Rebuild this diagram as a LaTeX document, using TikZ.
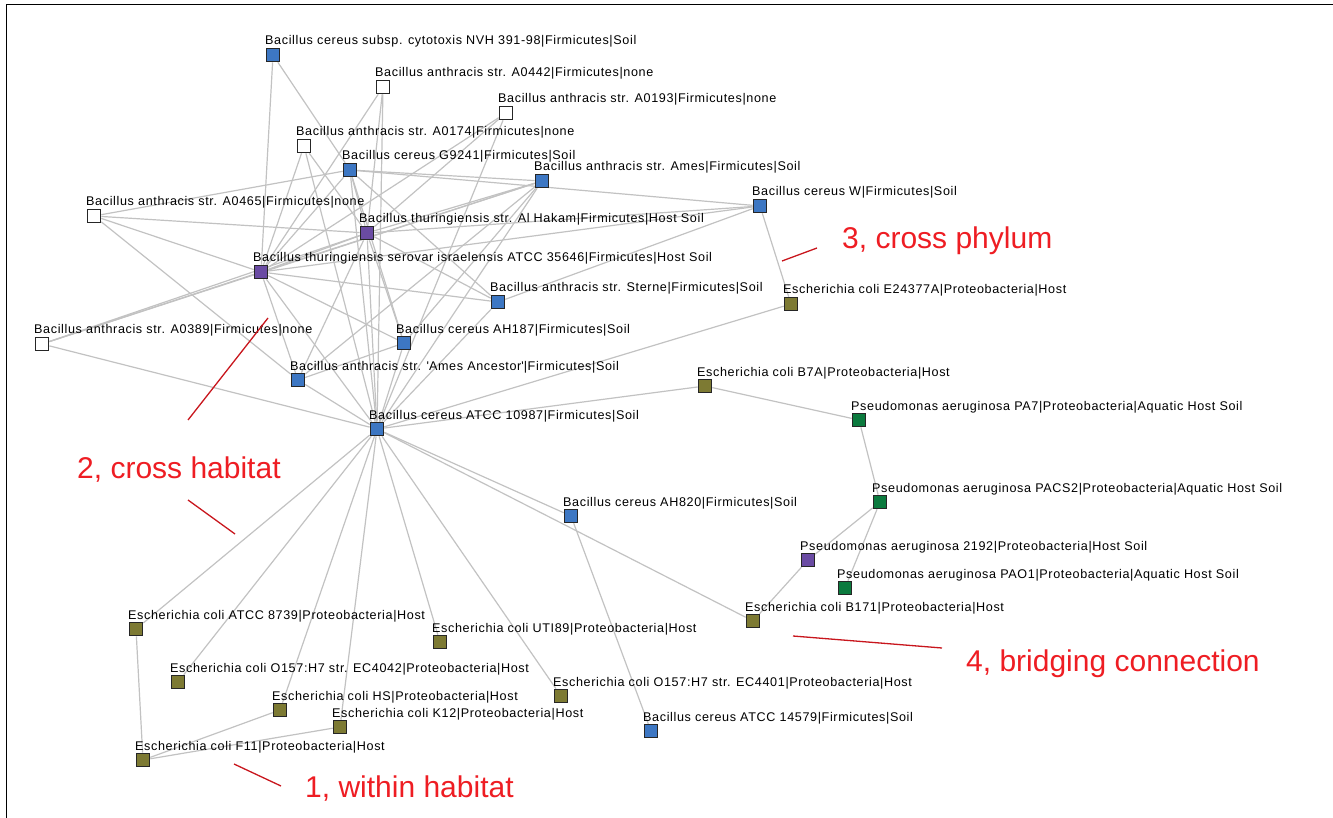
\documentclass[tikz,border=0pt]{standalone}
\usepackage{fontspec}
\setmainfont{Liberation Sans}
\newfontfamily\lblfont[LetterSpace=5]{Liberation Sans}
\usetikzlibrary{backgrounds}
\definecolor{nblue}{HTML}{3D77C3}
\definecolor{npurple}{HTML}{6A4BA3}
\definecolor{nolive}{HTML}{7D7A33}
\definecolor{ngreen}{HTML}{0B7A3E}
\definecolor{annred}{HTML}{EE1D23}
\definecolor{annln}{HTML}{C8161D}
\definecolor{edgegray}{HTML}{C2C2C2}
\tikzset{
  edge/.style={draw=edgegray, line width=1.2pt},
  nd/.style={rectangle, draw=black!85, line width=1.1pt, minimum size=13.5pt, inner sep=0pt},
  lbl/.style={anchor=base west, inner sep=0pt, font={\lblfont\fontsize{12.6}{13}\selectfont}},
  ann/.style={anchor=base west, inner sep=0pt, text=annred, font={\fontsize{30}{32}\selectfont}},
  annline/.style={draw=annln, line width=1.3pt},
  frame/.style={draw=black, line width=1pt}
}
\newcommand\gn[5]{\node[nd,fill=#4] (#1) at (#2,#3) {}; \node[lbl] (#1l) at ({#2-8},{#3-10}) {#5};}
\begin{document}
\begin{tikzpicture}[x=1pt,y=-1pt]
\useasboundingbox (0,0) rectangle (1333,818);
\draw[frame] (6,818) -- (6,5) -- (1333,5);
% nodes
\gn{cyt}{273}{55}{nblue}{Bacillus cereus subsp. cytotoxis NVH 391-98|Firmicutes|Soil}
\gn{a442}{383}{87}{white}{Bacillus anthracis str. A0442|Firmicutes|none}
\gn{a193}{506}{113}{white}{Bacillus anthracis str. A0193|Firmicutes|none}
\gn{a174}{304}{146}{white}{Bacillus anthracis str. A0174|Firmicutes|none}
\gn{g92}{350}{170}{nblue}{Bacillus cereus G9241|Firmicutes|Soil}
\gn{ames}{542}{181}{nblue}{Bacillus anthracis str. Ames|Firmicutes|Soil}
\gn{w}{760}{206}{nblue}{Bacillus cereus W|Firmicutes|Soil}
\gn{a465}{94}{216}{white}{Bacillus anthracis str. A0465|Firmicutes|none}
\gn{hak}{367}{233}{npurple}{Bacillus thuringiensis str. Al Hakam|Firmicutes|Host Soil}
\gn{isr}{261}{272}{npurple}{Bacillus thuringiensis serovar israelensis ATCC 35646|Firmicutes|Host Soil}
\gn{ster}{498}{302}{nblue}{Bacillus anthracis str. Sterne|Firmicutes|Soil}
\gn{e243}{791}{304}{nolive}{Escherichia coli E24377A|Proteobacteria|Host}
\gn{a389}{42}{344}{white}{Bacillus anthracis str. A0389|Firmicutes|none}
\gn{ah187}{404}{343}{nblue}{Bacillus cereus AH187|Firmicutes|Soil}
\gn{anc}{298}{380}{nblue}{Bacillus anthracis str. \textquotesingle Ames Ancestor\textquotesingle|Firmicutes|Soil}
\gn{c109}{377}{429}{nblue}{Bacillus cereus ATCC 10987|Firmicutes|Soil}
\gn{b7a}{705}{386}{nolive}{Escherichia coli B7A|Proteobacteria|Host}
\gn{pa7}{859}{420}{ngreen}{Pseudomonas aeruginosa PA7|Proteobacteria|Aquatic Host Soil}
\gn{ah820}{571}{516}{nblue}{Bacillus cereus AH820|Firmicutes|Soil}
\gn{pacs2}{880}{502}{ngreen}{Pseudomonas aeruginosa PACS2|Proteobacteria|Aquatic Host Soil}
\gn{p2192}{808}{560}{npurple}{Pseudomonas aeruginosa 2192|Proteobacteria|Host Soil}
\gn{pao1}{845}{588}{ngreen}{Pseudomonas aeruginosa PAO1|Proteobacteria|Aquatic Host Soil}
\gn{c8739}{136}{629}{nolive}{Escherichia coli ATCC 8739|Proteobacteria|Host}
\gn{b171}{753}{621}{nolive}{Escherichia coli B171|Proteobacteria|Host}
\gn{uti}{440}{642}{nolive}{Escherichia coli UTI89|Proteobacteria|Host}
\gn{ec42}{178}{682}{nolive}{Escherichia coli O157:H7 str. EC4042|Proteobacteria|Host}
\gn{ec44}{561}{696}{nolive}{Escherichia coli O157:H7 str. EC4401|Proteobacteria|Host}
\gn{hs}{280}{710}{nolive}{Escherichia coli HS|Proteobacteria|Host}
\gn{k12}{340}{727}{nolive}{Escherichia coli K12|Proteobacteria|Host}
\gn{c145}{651}{731}{nblue}{Bacillus cereus ATCC 14579|Firmicutes|Soil}
\gn{f11}{143}{760}{nolive}{Escherichia coli F11|Proteobacteria|Host}
% edges
\begin{scope}[on background layer]
\foreach \t in {a465,a389,cyt,a442,a174,a193,g92,hak,ames,w,ster,ah187,anc,c109}
  \draw[edge] (isr) -- (\t);
\foreach \t in {a465,a389,a442,a174,a193,g92,ames,w,ster,ah187,c109,anc}
  \draw[edge] (hak) -- (\t);
\foreach \t in {cyt,a465,ames,w,ah187,c109,ster}
  \draw[edge] (g92) -- (\t);
\foreach \t in {a389,c109,ah187,anc}
  \draw[edge] (ames) -- (\t);
\foreach \t in {a389,a442,a174,a193,ster,ah187,anc,e243,b7a,ah820,b171,c8739,ec42,hs,k12,uti,ec44}
  \draw[edge] (c109) -- (\t);
\draw[edge] (a465) -- (anc);
\draw[edge] (anc) -- (ah187);
\draw[edge] (ster) -- (w);
\draw[edge] (w) -- (e243);
\draw[edge] (b7a) -- (pa7);
\draw[edge] (pa7) -- (pacs2);
\draw[edge] (pacs2) -- (p2192);
\draw[edge] (pacs2) -- (pao1);
\draw[edge] (p2192) -- (b171);
\draw[edge] (ah820) -- (c145);
\draw[edge] (c8739) -- (f11);
\draw[edge] (f11) -- (hs);
\draw[edge] (f11) -- (k12);
\end{scope}
% annotations
\coordinate (p3a) at (782,261); \coordinate (p3b) at (817,248);
\coordinate (p2a) at (188,420); \coordinate (p2b) at (268,318);
\coordinate (p2c) at (188,500); \coordinate (p2d) at (235,534);
\coordinate (p4a) at (793,636); \coordinate (p4b) at (942,648);
\coordinate (p1a) at (234,764); \coordinate (p1b) at (281,786);
\draw[annline] (p3a) -- (p3b);
\draw[annline] (p2a) -- (p2b);
\draw[annline] (p2c) -- (p2d);
\draw[annline] (p4a) -- (p4b);
\draw[annline] (p1a) -- (p1b);
\node[ann] (t3) at (842,249) {3, cross phylum};
\node[ann] (t2) at (77,478) {2, cross habitat};
\node[ann] (t4) at (966,671) {4, bridging connection};
\node[ann] (t1) at (305,797) {1, within habitat};
\end{tikzpicture}
\end{document}
